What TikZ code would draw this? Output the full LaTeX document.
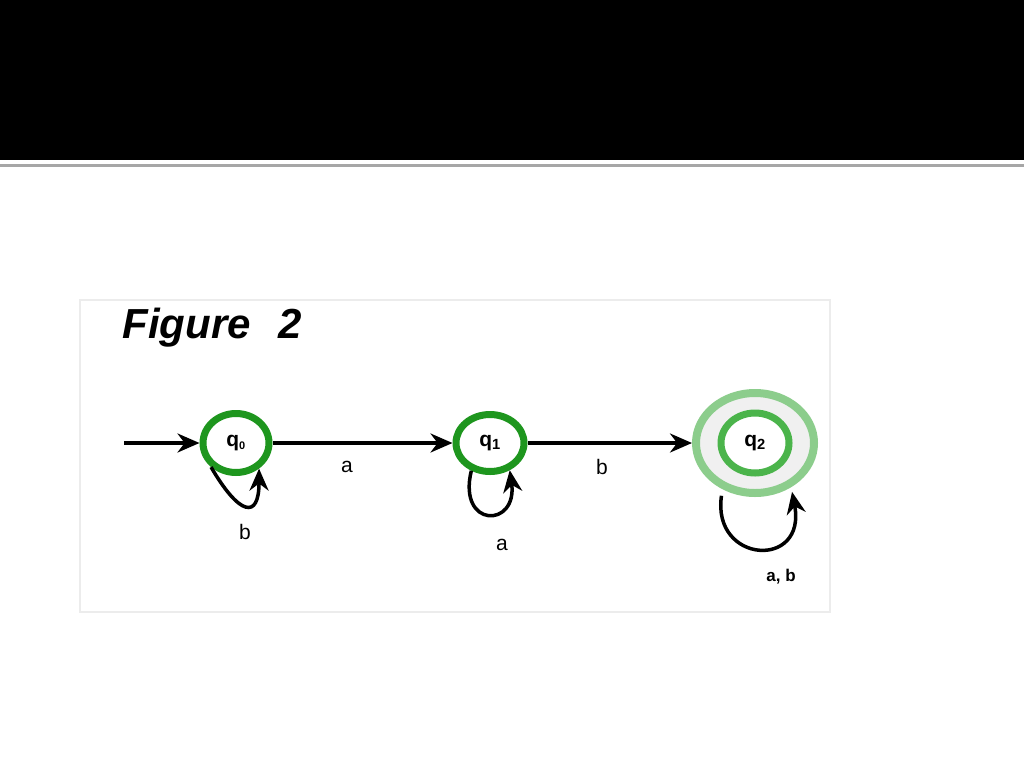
\documentclass[tikz,border=0pt]{standalone}
\usepackage{fontspec}
\setmainfont{Liberation Sans}
\usetikzlibrary{shapes.geometric,arrows.meta}
\definecolor{stgreen}{RGB}{30,150,30}
\definecolor{ringlight}{RGB}{140,205,140}
\definecolor{ringmid}{RGB}{75,180,75}
\tikzset{
  state/.style={ellipse, draw=stgreen, line width=7pt, fill=white, inner sep=0pt, font=\fontsize{21}{24}\selectfont\bfseries},
  trans/.style={line width=3.5pt, -{Stealth[length=22pt,width=19pt]}},
  lbl/.style={font=\fontsize{21}{24}\selectfont},
}
\begin{document}
\begin{tikzpicture}[x=1pt,y=-1pt]
\useasboundingbox (0,0) rectangle (1024,768);
\fill[white] (0,0) rectangle (1024,768);
\fill[black] (0,0) rectangle (1024,160);
\fill[gray!70] (0,164) rectangle (1024,167);
\draw[gray!15, line width=1.5pt, fill=white] (80,300) rectangle (830,612);
\node[anchor=west, font=\fontsize{42}{48}\selectfont\bfseries\itshape] (title) at (119,328) {Figure\hspace{28pt}2};
% states
\node[state, minimum width=66pt, minimum height=59pt] (q0) at (236,443) {q\textsubscript{\fontsize{11}{11}\selectfont 0}};
\node[state, minimum width=68pt, minimum height=57pt] (q1) at (490,443) {q\textsubscript{1}};
\node[ellipse, draw=ringlight, line width=8pt, fill=gray!12, minimum width=118pt, minimum height=100pt] (q2o) at (755,443) {};
\node[ellipse, draw=ringmid, line width=7pt, fill=white, minimum width=68pt, minimum height=60pt, inner sep=0pt, font=\fontsize{21}{24}\selectfont\bfseries] (q2) at (755,443) {q\textsubscript{2}};
% start
\coordinate (s) at (124,443);
\draw[trans] (s) -- (q0);
\draw[trans] (q0) -- (q1);
\node[lbl] (la) at (347,467) {a};
\draw[trans] (q1) -- (q2o);
\node[lbl] (lb) at (602,467) {b};
% loops
\draw[trans] (q0.224) .. controls +(28,48) and +(0,52) .. (q0.312);
\node[lbl] (lb0) at (245,532) {b};
\draw[trans] (q1.236) .. controls +(-14,58) and +(8,58) .. (q1.306);
\node[lbl] (lb1) at (502,545) {a};
\draw[trans] ([shift={(-2,6)}]q2o.236) .. controls +(-10,68) and +(15,78) .. ([shift={(2,4)}]q2o.308);
\node[font=\fontsize{17}{20}\selectfont\bfseries] (lb2) at (781,577) {a, b};
\end{tikzpicture}
\end{document}
